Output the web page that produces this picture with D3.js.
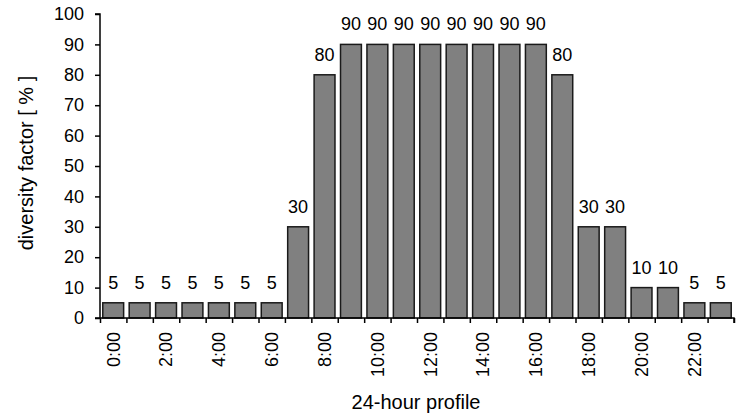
<!DOCTYPE html>
<html>
<head>
<meta charset="utf-8">
<script src="https://cdn.jsdelivr.net/npm/d3@7"></script>
<style>
  body { margin: 0; background: #fff; }
  text { font-family: "Liberation Sans", Arial, sans-serif; fill: #000; }
</style>
</head>
<body>
<div id="chart"></div>
<script>
// 24-hour diversity profile
var hours = d3.range(24).map(function(h) { return h + ":00"; });
var factors = [5, 5, 5, 5, 5, 5, 5, 30, 80, 90, 90, 90, 90, 90, 90, 90, 90, 80, 30, 30, 10, 10, 5, 5];
var yTicks = [0, 10, 20, 30, 40, 50, 60, 70, 80, 90, 100];
var xTickLabels = ["0:00", "2:00", "4:00", "6:00", "8:00", "10:00", "12:00", "14:00", "16:00", "18:00", "20:00", "22:00"];

var margin = { left: 100, right: 11, top: 14, bottom: 99 };
var width = 745 - margin.left - margin.right;
var height = 417 - margin.top - margin.bottom;
var fontSize = 18;
var titleSize = 20;

var svg = d3.select("#chart").append("svg")
    .attr("width", 745)
    .attr("height", 417)
  .append("g")
    .attr("transform", "translate(" + margin.left + "," + margin.top + ")");

var x = d3.scaleBand()
    .domain(hours)
    .range([0, width])
    .paddingInner(0.21)
    .paddingOuter(0.105);

var y = d3.scaleLinear()
    .domain([0, 100])
    .range([height, 0]);

// bars
svg.selectAll("rect.bar")
    .data(factors)
    .enter().append("rect")
    .attr("class", "bar")
    .attr("x", function(d, i) { return x(hours[i]); })
    .attr("y", function(d) { return y(d); })
    .attr("width", x.bandwidth())
    .attr("height", function(d) { return height - y(d); })
    .attr("fill", "#808080")
    .attr("stroke", "#1a1a1a")
    .attr("stroke-width", 1.5);

// value labels
svg.selectAll("text.val")
    .data(factors)
    .enter().append("text")
    .attr("class", "val")
    .attr("x", function(d, i) { return x(hours[i]) + x.bandwidth() / 2; })
    .attr("y", function(d) { return y(d) - 14; })
    .attr("text-anchor", "middle")
    .style("font-size", fontSize + "px")
    .text(function(d) { return d; });

// y axis
var yAxis = svg.append("g")
    .call(d3.axisLeft(y).tickValues(yTicks).tickSize(5).tickPadding(11));
yAxis.selectAll("text").style("font-size", fontSize + "px").attr("fill", "#000");
yAxis.selectAll("line, path").attr("stroke", "#000").attr("stroke-width", 1.5);
yAxis.select(".domain").attr("d", "M-5," + height + "H0V0H-5");

// x axis: ticks on category boundaries
var xb = d3.scaleLinear().domain([0, 24]).range([0, width]);
var xAxis = svg.append("g")
    .attr("transform", "translate(0," + height + ")")
    .call(d3.axisBottom(xb).tickValues(d3.range(25)).tickSize(5).tickFormat(""));
xAxis.selectAll("line, path").attr("stroke", "#000").attr("stroke-width", 1.5);
xAxis.select(".domain").attr("d", "M0,0H" + width + "V5");

// x tick labels, rotated
svg.selectAll("text.xlab")
    .data(xTickLabels)
    .enter().append("text")
    .attr("class", "xlab")
    .attr("transform", function(d) {
        var cx = x(d) + x.bandwidth() / 2;
        return "translate(" + cx + "," + (height + 14) + ") rotate(-90)";
    })
    .attr("text-anchor", "end")
    .attr("dy", "0.35em")
    .style("font-size", fontSize + "px")
    .text(function(d) { return d; });

// axis titles
svg.append("text")
    .attr("x", width / 2 - 1)
    .attr("y", height + 91)
    .attr("text-anchor", "middle")
    .style("font-size", titleSize + "px")
    .text("24-hour profile");

svg.append("text")
    .attr("transform", "translate(" + (33 - margin.left) + "," + (163 - margin.top) + ") rotate(-90)")
    .attr("text-anchor", "middle")
    .style("font-size", titleSize + "px")
    .text("diversity factor [ % ]");
</script>
</body>
</html>
